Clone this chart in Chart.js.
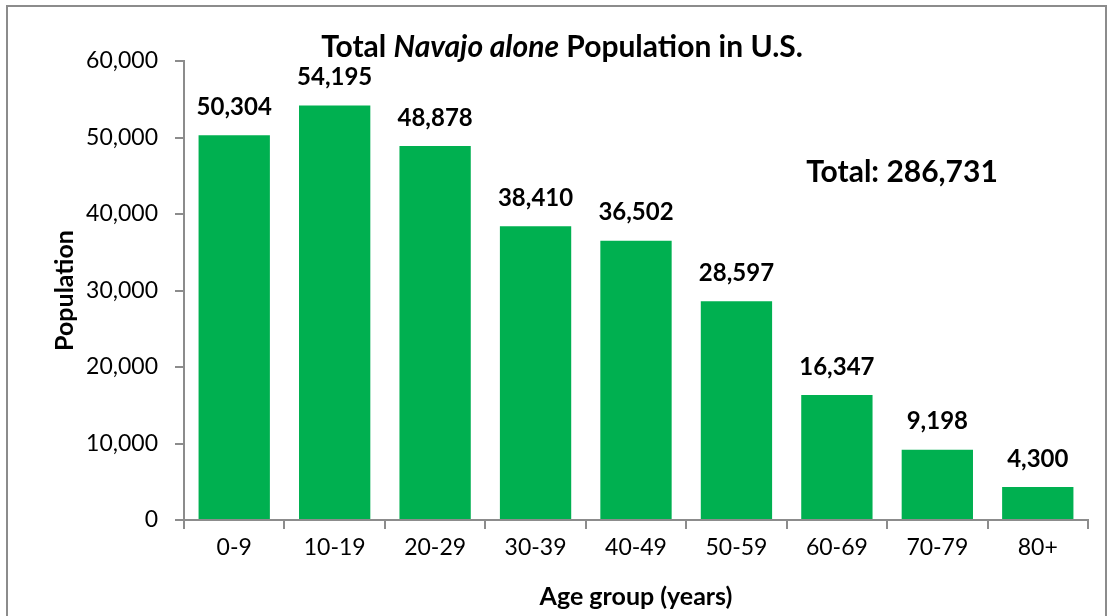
<!DOCTYPE html>
<html><head><meta charset="utf-8">
<script src="https://cdn.jsdelivr.net/npm/chart.js@4"></script>
<style>
html,body{margin:0;padding:0;background:#fff;overflow:hidden}
#wrap{position:absolute;left:0;top:0;width:1112px;height:616px}
#frame{position:absolute;left:6px;top:5px;width:1101px;height:640px;border:2px solid #8c8c8c;box-sizing:border-box;pointer-events:none}
</style></head>
<body>
<div id="wrap"><canvas id="c" width="1112" height="616"></canvas></div>
<div id="frame"></div>
<script>
const categories = ["0-9","10-19","20-29","30-39","40-49","50-59","60-69","70-79","80+"];
const population = [50304,54195,48878,38410,36502,28597,16347,9198,4300];
const yTicks = [0,10000,20000,30000,40000,50000,60000];
const totalText = "Total: 286,731";
const titleParts = [["Total ","bold"],["Navajo alone","italic bold"],[" Population in U.S.","bold"]];

const FONT = "Lato, 'Open Sans', sans-serif";
const fmt = v => v.toLocaleString('en-US');

const overlay = {
  id:'overlay',
  afterDatasetsDraw(chart){
    const ctx = chart.ctx;
    const meta = chart.getDatasetMeta(0);
    ctx.save();
    ctx.fillStyle = '#000';
    ctx.textAlign = 'center';
    ctx.textBaseline = 'middle';
    ctx.font = "bold 24px " + FONT;
    meta.data.forEach((bar,i)=>{
      ctx.fillText(fmt(population[i]), bar.x, bar.y - 28);
    });
    // title
    const size = 30;
    let w = 0;
    titleParts.forEach(p=>{ctx.font = p[1]+" "+size+"px "+FONT; w += ctx.measureText(p[0]).width;});
    let x = 562 - w/2;
    ctx.textAlign='left';
    ctx.textBaseline='middle';
    titleParts.forEach(p=>{ctx.font = p[1]+" "+size+"px "+FONT; ctx.fillText(p[0], x, 47); x += ctx.measureText(p[0]).width;});
    // total
    ctx.font = "bold 30px " + FONT;
    ctx.textAlign='center';
    ctx.fillText(totalText, 902, 172);
    ctx.restore();
  }
};

new Chart(document.getElementById('c'), {
  type:'bar',
  data:{labels:categories, datasets:[{data:population, backgroundColor:'#00B050', borderColor:'#00B050', borderWidth:0, barPercentage:0.71, categoryPercentage:1}]},
  options:{
    responsive:false, animation:false,
    layout:{padding:{left:0,right:24,top:61,bottom:0}},
    plugins:{legend:{display:false}, tooltip:{enabled:false}, title:{display:false}},
    scales:{
      x:{
        grid:{display:true, drawOnChartArea:false, drawTicks:true, tickLength:9, color:'#8c8c8c', lineWidth:2, offset:true},
        border:{display:true, color:'#8c8c8c', width:2},
        ticks:{color:'#000', font:{family:FONT, size:23}, padding:5, maxRotation:0},
        title:{display:true, text:'Age group (years)', color:'#000', font:{family:FONT, size:25, weight:'bold'}, padding:{top:0,bottom:4}},
        afterFit(s){ s.height = 96; }
      },
      y:{
        min:0, max:60000,
        afterBuildTicks(s){ s.ticks = yTicks.map(v=>({value:v})); },
        grid:{display:true, drawOnChartArea:false, drawTicks:true, tickLength:9, color:'#8c8c8c', lineWidth:2},
        border:{display:true, color:'#8c8c8c', width:2},
        ticks:{color:'#000', font:{family:FONT, size:23}, padding:17, callback:v=>fmt(v)},
        title:{display:true, text:'Population', color:'#000', font:{family:FONT, size:25, weight:'bold'}, padding:{top:50,bottom:0}},
        afterFit(s){ s.width = 184; }
      }
    }
  },
  plugins:[overlay]
});
</script>
</body></html>
